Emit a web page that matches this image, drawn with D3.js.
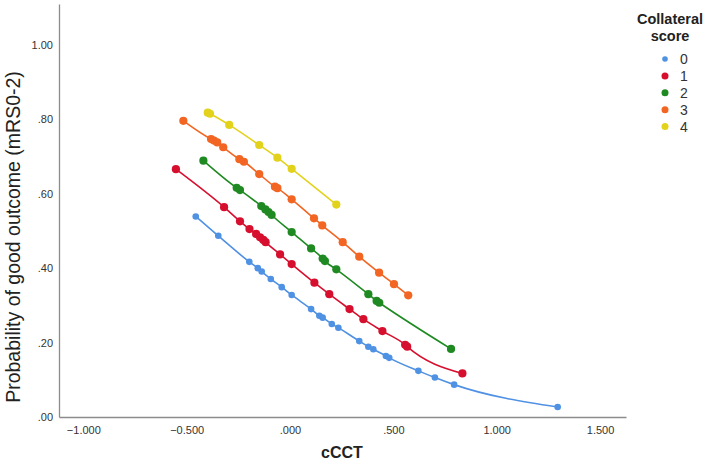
<!DOCTYPE html>
<html>
<head>
<meta charset="utf-8">
<script src="https://cdn.jsdelivr.net/npm/d3@7/dist/d3.min.js"></script>
<style>
html,body{margin:0;padding:0;background:#fff;}
svg{display:block;font-family:"Liberation Sans",Arial,sans-serif;}
</style>
</head>
<body>
<svg id="chart" width="709" height="468"></svg>
<script>
const categories = ["0", "1", "2", "3", "4"];
const seriesColors = ["#4f91e3", "#d70f2f", "#1f8a22", "#f26522", "#e3d21b"];
const xTicks = [-1.0, -0.5, 0.0, 0.5, 1.0, 1.5];
const yTicks = [0.0, 0.2, 0.4, 0.6, 0.8, 1.0];

const score0x = [-0.456,-0.347,-0.197,-0.156,-0.137,-0.093,-0.040,0.008,0.102,0.142,0.158,0.202,0.234,0.335,0.379,0.403,0.464,0.480,0.621,0.701,0.794,1.295];
const score0y = [0.539,0.487,0.417,0.400,0.391,0.371,0.349,0.328,0.290,0.272,0.267,0.250,0.240,0.204,0.189,0.182,0.164,0.159,0.124,0.106,0.087,0.027];
const score1x = [-0.552,-0.319,-0.242,-0.196,-0.164,-0.145,-0.129,-0.118,-0.048,0.008,0.118,0.190,0.288,0.355,0.447,0.557,0.567,0.834];
const score1y = [0.666,0.564,0.526,0.505,0.492,0.483,0.476,0.470,0.437,0.411,0.361,0.330,0.290,0.263,0.231,0.194,0.189,0.117];
const score2x = [-0.419,-0.258,-0.242,-0.139,-0.119,-0.104,-0.089,0.008,0.102,0.158,0.169,0.224,0.379,0.419,0.432,0.779];
const score2y = [0.689,0.616,0.610,0.567,0.558,0.551,0.543,0.497,0.453,0.426,0.419,0.397,0.330,0.312,0.307,0.183];
const score3x = [-0.516,-0.382,-0.368,-0.352,-0.323,-0.245,-0.223,-0.149,-0.073,-0.061,0.008,0.116,0.156,0.255,0.335,0.431,0.503,0.572];
const score3y = [0.796,0.747,0.743,0.738,0.725,0.693,0.686,0.653,0.619,0.615,0.585,0.534,0.515,0.470,0.431,0.388,0.357,0.327];
const score4x = [-0.398,-0.387,-0.294,-0.149,-0.061,0.008,0.224];
const score4y = [0.818,0.815,0.785,0.731,0.697,0.667,0.571];

const seriesX = [score0x, score1x, score2x, score3x, score4x];
const seriesY = [score0y, score1y, score2y, score3y, score4y];

const series = categories.map((c, i) => ({
  name: c,
  color: seriesColors[i],
  pts: seriesX[i].map((xv, j) => ({x: xv, y: seriesY[i][j]}))
}));

const svg = d3.select("#chart");
const x = d3.scaleLinear().domain([-1.1176, 1.6255]).range([59, 626]);
const y = d3.scaleLinear().domain([0, 1.11]).range([417, 4]);

const fmt = (d, p) => d3.format("." + p + "f")(d).replace(/^(-?)0\./, "$1.");

// axes
const xAxis = d3.axisBottom(x).tickValues(xTicks).tickSize(0).tickPadding(9).tickFormat(d => fmt(d, 3));
const gx = svg.append("g").attr("transform", "translate(0,417)").call(xAxis);
gx.select(".domain").attr("stroke", "#8c8c8c").attr("stroke-width", 1.3);
gx.selectAll("text").attr("font-size", 11).attr("fill", "#333").attr("font-family", "Liberation Sans, Arial, sans-serif");

const yAxis = d3.axisLeft(y).tickValues(yTicks).tickSize(0).tickPadding(6).tickFormat(d => fmt(d, 2));
const gy = svg.append("g").attr("transform", "translate(59,0)").call(yAxis);
gy.select(".domain").attr("stroke", "#8c8c8c").attr("stroke-width", 1.3);
gy.selectAll("text").attr("font-size", 11).attr("fill", "#333").attr("font-family", "Liberation Sans, Arial, sans-serif");

// axis titles
svg.append("text").attr("x", 342).attr("y", 458).attr("text-anchor", "middle")
  .attr("font-size", 16).attr("font-weight", "bold").attr("fill", "#222").text("cCCT");
svg.append("text").attr("transform", "translate(20,237) rotate(-90)").attr("text-anchor", "middle")
  .attr("font-size", 19.5).attr("fill", "#222").text("Probability of good outcome (mRS0-2)");

// lines and points
const line = d3.line().x(d => x(d.x)).y(d => y(d.y)).curve(d3.curveMonotoneX);
series.forEach((s, i) => {
  svg.append("path").datum(s.pts).attr("d", line).attr("fill", "none")
    .attr("stroke", s.color).attr("stroke-width", 1.6);
});
series.forEach((s, i) => {
  svg.append("g").selectAll("circle").data(s.pts).join("circle")
    .attr("cx", d => x(d.x)).attr("cy", d => y(d.y))
    .attr("r", i === 0 ? 3.3 : 4.1).attr("fill", s.color);
});

// legend
const lg = svg.append("g");
lg.append("text").attr("x", 670).attr("y", 24).attr("text-anchor", "middle")
  .attr("font-size", 14.5).attr("font-weight", "bold").attr("fill", "#222").text("Collateral");
lg.append("text").attr("x", 670).attr("y", 41).attr("text-anchor", "middle")
  .attr("font-size", 14.5).attr("font-weight", "bold").attr("fill", "#222").text("score");
series.forEach((s, i) => {
  const cy = 59 + i * 16.9;
  lg.append("circle").attr("cx", 665).attr("cy", cy).attr("r", i === 0 ? 2.8 : 3.5).attr("fill", s.color);
  lg.append("text").attr("x", 680).attr("y", cy + 5).attr("font-size", 14).attr("fill", "#333").text(s.name);
});
</script>
</body>
</html>
